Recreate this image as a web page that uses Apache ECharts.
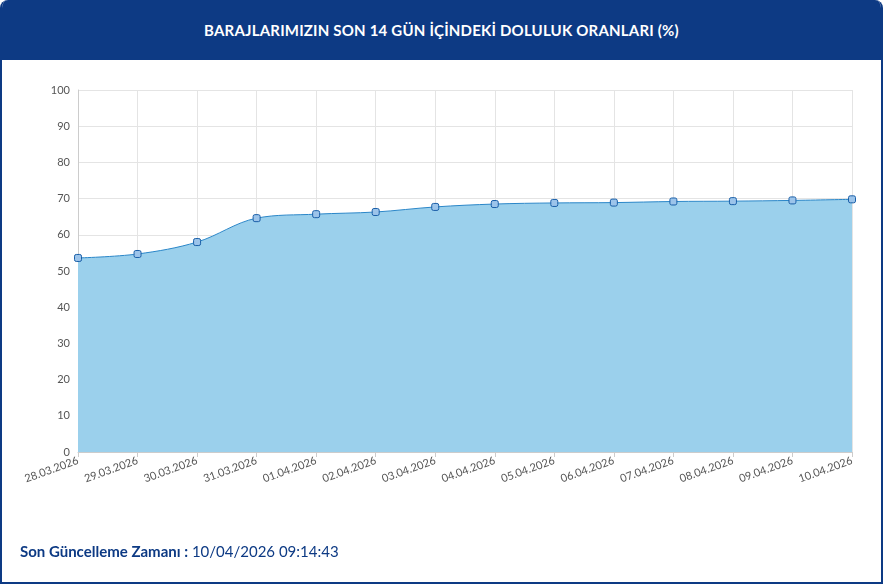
<!DOCTYPE html>
<html><head><meta charset="utf-8">
<script src="https://cdn.jsdelivr.net/npm/echarts@6/dist/echarts.min.js"></script>
<style>
html,body{margin:0;padding:0;background:#fff;font-family:Lato,"Noto Sans",sans-serif;}
#card{position:absolute;left:0;top:0;width:879px;height:582px;border:2px solid #0d3a84;border-top:none;border-radius:8px 8px 0 0;overflow:hidden;box-sizing:border-box;width:883px;height:584px;}
#hdr{position:absolute;left:0;top:0;width:100%;height:60px;background:#0d3a84;color:#fff;font-weight:bold;font-size:15px;text-align:center;line-height:60px;letter-spacing:0.2px;}
#chart{position:absolute;left:0;top:0;width:883px;height:584px;}
#ftr{position:absolute;left:18px;top:542px;font-size:15px;color:#0d3a84;}
#ftr b{font-weight:bold;}
</style></head><body>
<div id="chart"></div>
<div id="card"><div id="hdr">BARAJLARIMIZIN SON 14 GÜN İÇİNDEKİ DOLULUK ORANLARI (%)</div>
<div id="ftr"><b>Son Güncelleme Zamanı :</b> 10/04/2026 09:14:43</div></div>
<script>
const dates=["28.03.2026","29.03.2026","30.03.2026","31.03.2026","01.04.2026","02.04.2026","03.04.2026","04.04.2026","05.04.2026","06.04.2026","07.04.2026","08.04.2026","09.04.2026","10.04.2026"];
const fillRates=[53.6,54.7,58.0,64.6,65.7,66.3,67.7,68.5,68.8,68.9,69.2,69.3,69.5,69.8];
const chart=echarts.init(document.getElementById('chart'));
chart.setOption({
 animation:false,
 grid:{left:78,right:31,top:90,bottom:132},
 xAxis:{type:'category',data:dates,boundaryGap:false,
  axisLine:{lineStyle:{color:'#ccc'}},axisTick:{show:true,lineStyle:{color:'#ccc'}},
  splitLine:{show:true,lineStyle:{color:'#e4e4e4'}},
  axisLabel:{rotate:20,color:'#555',fontSize:11,interval:0,margin:8,fontFamily:'Lato'}},
 yAxis:{type:'value',min:0,max:100,interval:10,
  axisLine:{show:true,lineStyle:{color:'#ccc'}},
  splitLine:{lineStyle:{color:'#e4e4e4'}},
  axisLabel:{color:'#555',fontSize:11,fontFamily:'Lato'}},
 series:[{type:'line',data:fillRates,smooth:0.35,
  symbol:'roundRect',symbolSize:7,
  itemStyle:{color:'#9cc4ea',borderColor:'#1a5fa8',borderWidth:1},
  lineStyle:{color:'#2a86c8',width:1},
  areaStyle:{color:'#9bd0ec',opacity:1}}]
});
</script></body></html>
